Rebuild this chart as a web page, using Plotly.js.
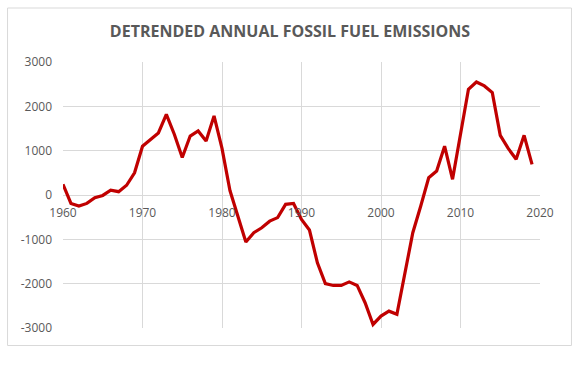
<!DOCTYPE html>
<html>
<head>
<meta charset="utf-8">
<script src="https://cdn.plot.ly/plotly-3.0.1.min.js"></script>
<style>html,body{margin:0;padding:0;background:#fff;}#chart{width:583px;height:368px;}</style>
</head>
<body>
<div id="chart"></div>
<script>
const years = [1960,1961,1962,1963,1964,1965,1966,1967,1968,1969,
               1970,1971,1972,1973,1974,1975,1976,1977,1978,1979,
               1980,1981,1982,1983,1984,1985,1986,1987,1988,1989,
               1990,1991,1992,1993,1994,1995,1996,1997,1998,1999,
               2000,2001,2002,2003,2004,2005,2006,2007,2008,2009,
               2010,2011,2012,2013,2014,2015,2016,2017,2018,2019];
const emissions = [240,-190,-250,-190,-60,-10,110,75,220,500,
                   1100,1240,1400,1820,1370,845,1330,1445,1220,1785,
                   1050,100,-510,-1060,-850,-740,-590,-510,-210,-190,
                   -550,-790,-1530,-2000,-2040,-2040,-1960,-2040,-2430,-2920,
                   -2730,-2620,-2690,-1750,-850,-250,390,540,1100,355,
                   1400,2385,2550,2460,2310,1345,1050,805,1345,690];
const xTicks = [1960,1970,1980,1990,2000,2010,2020];
const yTicks = [-3000,-2000,-1000,0,1000,2000,3000];
const chartTitle = 'DETRENDED ANNUAL FOSSIL FUEL EMISSIONS';

const gray = '#595959';
const grid = '#d9d9d9';
const L = 63, R = 42.5, T = 62, B = 40;
const W = 583, H = 368;
const pw = W - L - R, ph = H - T - B;
const px = v => (v - L) / pw;
const py = v => (H - B - v) / ph;

Plotly.newPlot('chart', [{
  x: years, y: emissions, type: 'scatter', mode: 'lines',
  line: {color: '#c00000', width: 3.2, shape: 'linear'},
  hoverinfo: 'skip'
}], {
  width: W, height: H,
  margin: {l: L, r: R, t: T, b: B, pad: 0},
  paper_bgcolor: '#fff', plot_bgcolor: '#fff',
  showlegend: false,
  title: {text: '<b>' + chartTitle + '</b>', x: 290 / W, xanchor: 'center', y: 1 - 31 / H, yanchor: 'middle',
          font: {family: 'Open Sans, sans-serif', size: 16, color: gray}},
  xaxis: {
    range: [1960, 2020], tickvals: xTicks, ticktext: xTicks.map(String),
    anchor: 'free', position: 0.5,
    showgrid: true, gridcolor: grid, gridwidth: 1,
    zeroline: false, showline: false, ticks: '',
    ticklabelstandoff: 9,
    tickfont: {family: 'Open Sans, sans-serif', size: 12, color: gray},
    fixedrange: true
  },
  yaxis: {
    range: [-3000, 3000], tickvals: yTicks, ticktext: yTicks.map(String),
    showgrid: true, gridcolor: grid, gridwidth: 1,
    zeroline: true, zerolinecolor: grid, zerolinewidth: 1,
    showline: false, ticks: '',
    ticklabelstandoff: 10,
    tickfont: {family: 'Open Sans, sans-serif', size: 12, color: gray},
    fixedrange: true
  },
  shapes: [{
    type: 'rect', xref: 'paper', yref: 'paper',
    x0: px(7.5), x1: px(572), y0: py(345.5), y1: py(8),
    line: {color: grid, width: 1}, fillcolor: 'rgba(0,0,0,0)', layer: 'below'
  }]
}, {displayModeBar: false, staticPlot: true});
</script>
</body>
</html>
